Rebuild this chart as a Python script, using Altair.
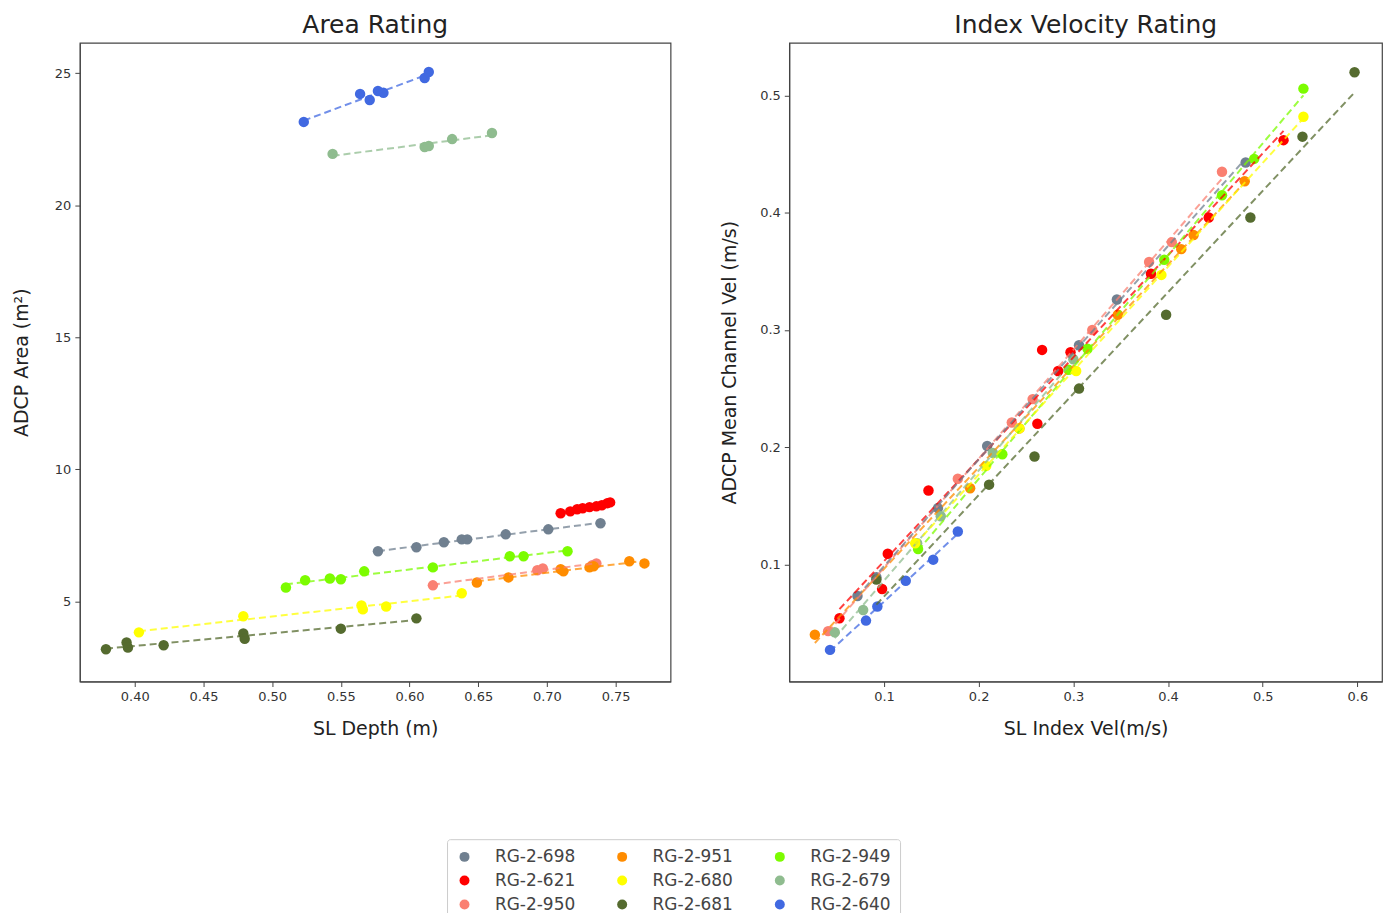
import altair as alt
import pandas as pd

# ---- gauges, legend order (filled column by column, 3 columns) ----
gauges = ["RG-2-698", "RG-2-621", "RG-2-950",
          "RG-2-951", "RG-2-680", "RG-2-681",
          "RG-2-949", "RG-2-679", "RG-2-640"]
colors = ["#708090", "#ff0000", "#fa8072",
          "#ff8c00", "#ffff00", "#556b2f",
          "#7cfc00", "#8fbc8f", "#4169e1"]

# ---- Area rating: SL depth (m) vs ADCP area (m^2) ----
depth = {
    "RG-2-640": [0.523, 0.564, 0.571, 0.577, 0.581, 0.611, 0.614],
    "RG-2-679": [0.544, 0.611, 0.614, 0.631, 0.660],
    "RG-2-698": [0.577, 0.605, 0.625, 0.638, 0.642, 0.670, 0.701, 0.739],
    "RG-2-621": [0.710, 0.717, 0.722, 0.726, 0.731, 0.736, 0.740, 0.744, 0.746],
    "RG-2-949": [0.510, 0.524, 0.542, 0.550, 0.567, 0.617, 0.673, 0.683, 0.715],
    "RG-2-950": [0.617, 0.693, 0.697, 0.733, 0.736],
    "RG-2-951": [0.649, 0.672, 0.710, 0.712, 0.731, 0.734, 0.760, 0.771],
    "RG-2-680": [0.403, 0.479, 0.565, 0.566, 0.583, 0.638],
    "RG-2-681": [0.379, 0.394, 0.395, 0.421, 0.479, 0.480, 0.550, 0.605],
}
area = {
    "RG-2-640": [23.15, 24.21, 23.98, 24.32, 24.25, 24.81, 25.04],
    "RG-2-679": [21.94, 22.20, 22.24, 22.50, 22.73],
    "RG-2-698": [6.90, 7.05, 7.24, 7.35, 7.35, 7.54, 7.73, 7.96],
    "RG-2-621": [8.34, 8.41, 8.49, 8.53, 8.57, 8.60, 8.64, 8.72, 8.75],
    "RG-2-949": [5.53, 5.80, 5.87, 5.84, 6.14, 6.29, 6.71, 6.71, 6.90],
    "RG-2-950": [5.61, 6.18, 6.25, 6.37, 6.44],
    "RG-2-951": [5.72, 5.91, 6.22, 6.14, 6.29, 6.33, 6.52, 6.44],
    "RG-2-680": [3.83, 4.44, 4.85, 4.70, 4.81, 5.31],
    "RG-2-681": [3.19, 3.45, 3.26, 3.34, 3.79, 3.59, 3.97, 4.36],
}

# ---- Index velocity rating: SL index vel vs ADCP mean channel vel (m/s) ----
index_vel = {
    "RG-2-640": [0.043, 0.081, 0.093, 0.123, 0.152, 0.178],
    "RG-2-951": [0.027, 0.191, 0.243, 0.347, 0.414, 0.427, 0.481],
    "RG-2-950": [0.041, 0.178, 0.235, 0.257, 0.320, 0.380, 0.404, 0.457],
    "RG-2-621": [0.053, 0.098, 0.104, 0.147, 0.262, 0.267, 0.284, 0.297, 0.382, 0.443, 0.522],
    "RG-2-698": [0.072, 0.092, 0.157, 0.209, 0.306, 0.346, 0.482],
    "RG-2-679": [0.048, 0.078, 0.135, 0.160, 0.215, 0.300],
    "RG-2-949": [0.136, 0.225, 0.295, 0.315, 0.396, 0.457, 0.491, 0.543],
    "RG-2-680": [0.133, 0.208, 0.243, 0.303, 0.393, 0.543],
    "RG-2-681": [0.092, 0.211, 0.259, 0.306, 0.398, 0.487, 0.542, 0.597],
}
mean_vel = {
    "RG-2-640": [0.027, 0.052, 0.064, 0.086, 0.104, 0.128],
    "RG-2-951": [0.040, 0.165, 0.216, 0.313, 0.369, 0.381, 0.427],
    "RG-2-950": [0.043, 0.173, 0.221, 0.241, 0.300, 0.358, 0.375, 0.435],
    "RG-2-621": [0.054, 0.079, 0.109, 0.163, 0.220, 0.283, 0.265, 0.281, 0.348, 0.396, 0.462],
    "RG-2-698": [0.073, 0.089, 0.148, 0.201, 0.287, 0.326, 0.443],
    "RG-2-679": [0.042, 0.061, 0.118, 0.141, 0.195, 0.275],
    "RG-2-949": [0.113, 0.194, 0.266, 0.284, 0.360, 0.415, 0.446, 0.506],
    "RG-2-680": [0.118, 0.184, 0.216, 0.265, 0.347, 0.482],
    "RG-2-681": [0.087, 0.168, 0.192, 0.250, 0.313, 0.396, 0.465, 0.520],
}

area_rows = [{"gauge": g, "x": xv, "y": yv}
             for g in depth for xv, yv in zip(depth[g], area[g])]
vel_rows = [{"gauge": g, "x": xv, "y": yv}
            for g in index_vel for xv, yv in zip(index_vel[g], mean_vel[g])]
df_area = pd.DataFrame(area_rows)
df_vel = pd.DataFrame(vel_rows)

FONT = "DejaVu Sans"
color_scale = alt.Scale(domain=gauges, range=colors)


def panel(df, title, xtitle, ytitle, xdom, ydom, xticks, yticks, xfmt, yfmt, ytp, w):
    x = alt.X("x:Q", title=xtitle,
              scale=alt.Scale(domain=xdom, nice=False, zero=False),
              axis=alt.Axis(values=xticks, format=xfmt))
    y = alt.Y("y:Q", title=ytitle,
              scale=alt.Scale(domain=ydom, nice=False, zero=False),
              axis=alt.Axis(values=yticks, format=yfmt, titlePadding=ytp))
    base = alt.Chart(df)
    lines = base.transform_regression(
        "x", "y", groupby=["gauge"], method="linear"
    ).mark_line(strokeDash=[7, 4], strokeWidth=2, opacity=0.75).encode(
        x=x, y=y, color=alt.Color("gauge:N", scale=color_scale, legend=None)
    )
    pts = base.mark_circle(size=110, opacity=1).encode(
        x=x, y=y,
        color=alt.Color("gauge:N", scale=color_scale, sort=gauges,
                        legend=alt.Legend(
                            title=None, orient="none", legendX=368, legendY=798,
                            columns=3, columnPadding=38, rowPadding=6,
                            symbolType="circle", symbolSize=100,
                            symbolStrokeWidth=0, labelFontSize=17,
                            labelFont=FONT, labelColor="#444", labelOffset=22,
                            padding=9, strokeColor="#cccccc",
                            cornerRadius=3, fillColor="white",
                            labelLimit=200)),
    )
    return alt.layer(pts, lines).properties(
        width=w, height=640,
        title=alt.TitleParams(title, fontSize=25, font=FONT, fontWeight="normal",
                              offset=5, frame="group", anchor="middle",
                              color="#222"),
    )


left = panel(df_area, "Area Rating", "SL Depth (m)", "ADCP Area (m²)",
             [0.36, 0.79], [1.97, 26.14],
             [0.40, 0.45, 0.50, 0.55, 0.60, 0.65, 0.70, 0.75],
             [5, 10, 15, 20, 25], ".2f", "d", 23, 592)
right = panel(df_vel, "Index Velocity Rating", "SL Index Vel(m/s)",
              "ADCP Mean Channel Vel (m/s)",
              [0.0, 0.626], [0.0, 0.545],
              [0.1, 0.2, 0.3, 0.4, 0.5, 0.6],
              [0.1, 0.2, 0.3, 0.4, 0.5], ".1f", ".1f", 20, 594)

chart = alt.hconcat(left, right, spacing=48).properties(
    padding={"left": 3, "top": 3, "right": 0, "bottom": -11}
).configure_view(
    stroke="#444", strokeWidth=1.2
).configure_axis(
    grid=False, labelFont=FONT, titleFont=FONT, labelFontSize=13,
    titleFontSize=19, titleFontWeight="normal", labelColor="#333",
    titleColor="#222", tickColor="#444", domainColor="#444",
    tickSize=5, labelPadding=4,
).configure_axisX(titlePadding=16)

chart.save("out.html", embed_options={"renderer": "svg", "actions": False})
